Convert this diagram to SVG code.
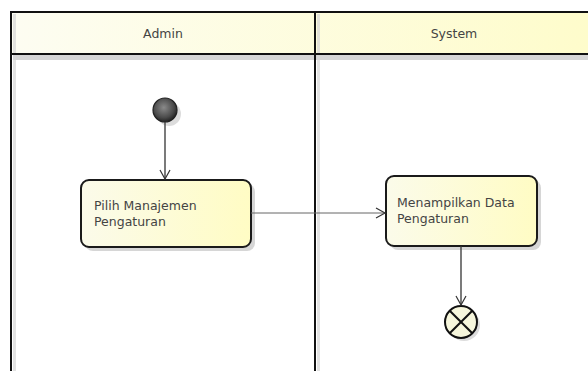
<svg xmlns="http://www.w3.org/2000/svg" width="588" height="371" viewBox="0 0 588 371">
  <defs>
    <linearGradient id="hdrFill" x1="0" y1="0" x2="1" y2="0">
      <stop offset="0" stop-color="#fdfdf2"/>
      <stop offset="1" stop-color="#fefccb"/>
    </linearGradient>
    <linearGradient id="actFill" x1="0" y1="0" x2="1" y2="0">
      <stop offset="0" stop-color="#fbfbea"/>
      <stop offset="1" stop-color="#fffcc4"/>
    </linearGradient>
    <radialGradient id="startFill" cx="0.45" cy="0.4" r="0.6">
      <stop offset="0" stop-color="#8a8a8a"/>
      <stop offset="0.7" stop-color="#4a4a4a"/>
      <stop offset="1" stop-color="#222"/>
    </radialGradient>
    <marker id="open" markerWidth="12" markerHeight="12" refX="10" refY="6" orient="auto" markerUnits="userSpaceOnUse">
      <path d="M1,1 L10,6 L1,11" fill="none" stroke="#333" stroke-width="1.2"/>
    </marker>
    <style>
      .lane-label { font-family: "DejaVu Sans", "Liberation Sans", sans-serif; font-size: 12.5px; fill: #444; text-anchor: middle; }
      .act-label { font-family: "DejaVu Sans", "Liberation Sans", sans-serif; font-size: 12.5px; fill: #444; }
      .frame { fill: none; stroke: #111; stroke-width: 2; }
      .shadow { fill: #d6d6d6; }
      .act { fill: url(#actFill); stroke: #1a1a1a; stroke-width: 2; }
      .flow { fill: none; stroke: #333; stroke-width: 1.3; marker-end: url(#open); }
      .flow-h { fill: none; stroke: #666; stroke-width: 1; marker-end: url(#open); }
    </style>
  </defs>

  <rect width="588" height="371" fill="#ffffff"/>

  <!-- swimlane frame -->
  <g id="lanes">
    <rect x="11" y="12" width="580" height="42" fill="url(#hdrFill)"/>
    <!-- soft inner shadows -->
    <rect x="13" y="55" width="578" height="5" class="shadow"/>
    <rect x="13" y="14" width="3" height="360" class="shadow" opacity="0.7"/>
    <rect x="317" y="14" width="3" height="360" class="shadow" opacity="0.7"/>
    <line x1="11" y1="12" x2="590" y2="12" class="frame"/>
    <line x1="11" y1="54" x2="590" y2="54" class="frame"/>
    <line x1="11" y1="11" x2="11" y2="372" class="frame"/>
    <line x1="315" y1="11" x2="315" y2="372" class="frame"/>
    <text x="163" y="38" class="lane-label">Admin</text>
    <text x="454" y="38" class="lane-label">System</text>
  </g>

  <!-- start node -->
  <g id="start">
    <circle cx="169" cy="114" r="12" fill="#dcdcdc"/>
    <circle cx="165" cy="110" r="12" fill="url(#startFill)" stroke="#222" stroke-width="1.2"/>
  </g>

  <!-- action: Pilih Manajemen Pengaturan -->
  <g id="pilih">
    <rect x="85" y="184" width="170" height="67" rx="8" class="shadow"/>
    <rect x="81" y="180" width="170" height="67" rx="8" class="act"/>
    <text x="94" y="210" class="act-label">Pilih Manajemen</text>
    <text x="94" y="226" class="act-label">Pengaturan</text>
  </g>

  <!-- action: Menampilkan Data Pengaturan -->
  <g id="tampil">
    <rect x="390" y="180" width="151" height="70" rx="8" class="shadow"/>
    <rect x="386" y="176" width="151" height="70" rx="8" class="act"/>
    <text x="397" y="207" class="act-label">Menampilkan Data</text>
    <text x="397" y="223" class="act-label">Pengaturan</text>
  </g>

  <!-- final node -->
  <g id="end">
    <circle cx="464" cy="325" r="16" fill="#dcdcdc"/>
    <circle cx="461" cy="322" r="16" fill="#f6f6dc" stroke="#111" stroke-width="2"/>
    <line x1="449.7" y1="310.7" x2="472.3" y2="333.3" stroke="#111" stroke-width="2"/>
    <line x1="472.3" y1="310.7" x2="449.7" y2="333.3" stroke="#111" stroke-width="2"/>
  </g>

  <!-- control flows -->
  <g id="flows">
    <line x1="165" y1="122" x2="165" y2="179" class="flow"/>
    <line x1="251" y1="213" x2="385" y2="213" class="flow-h"/>
    <line x1="461" y1="246" x2="461" y2="305" class="flow"/>
  </g>
</svg>
